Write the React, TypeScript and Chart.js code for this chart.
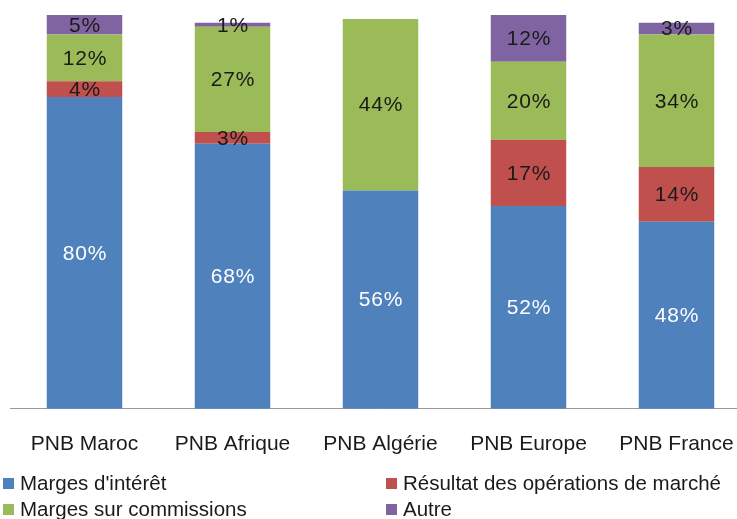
import React, { useEffect, useRef } from "react";
import { Chart, registerables } from "chart.js";

Chart.register(...registerables);

const categories = ["PNB Maroc", "PNB Afrique", "PNB Algérie", "PNB Europe", "PNB France"];
const seriesNames = [
  "Marges d'intérêt",
  "Résultat des opérations de marché",
  "Marges sur commissions",
  "Autre",
];
const margesInteret = [80, 68, 56, 52, 48];
const resultatMarche = [4, 3, 0, 17, 14];
const margesCommissions = [12, 27, 44, 20, 34];
const autre = [5, 1, 0, 12, 3];
const seriesColors = ["#4F81BD", "#C0504D", "#9BBB59", "#8064A2"];
const labelColors = ["#ffffff", "#1a1a1a", "#1a1a1a", "#1a1a1a"];

const FONT = "'Liberation Sans', Arial, sans-serif";

// Percent labels centred in each stacked segment
const segmentLabels = {
  id: "segmentLabels",
  afterDatasetsDraw(chart: any) {
    const { ctx } = chart;
    ctx.save();
    ctx.font = `21px ${FONT}`;
    ctx.textAlign = "center";
    ctx.textBaseline = "middle";
    (ctx as any).letterSpacing = "0.8px";
    chart.data.datasets.forEach((ds: any, di: number) => {
      const meta = chart.getDatasetMeta(di);
      meta.data.forEach((bar: any, i: number) => {
        const v = ds.data[i];
        if (!v) return;
        const { x, y, base } = bar.getProps(["x", "y", "base"], true);
        ctx.fillStyle = labelColors[di];
        ctx.fillText(`${v}%`, x + 0.5, (y + base) / 2 + 1);
      });
    });
    ctx.restore();
  },
};

// Two-column legend along the bottom edge
const bottomLegend = {
  id: "bottomLegend",
  afterDraw(chart: any) {
    const { ctx } = chart;
    const h = chart.height;
    const cols = [3, 386];
    const rows = [h - 36, h - 10];
    ctx.save();
    ctx.font = `20.5px ${FONT}`;
    ctx.textAlign = "left";
    ctx.textBaseline = "middle";
    chart.data.datasets.forEach((ds: any, i: number) => {
      const x = cols[i % 2];
      const y = rows[Math.floor(i / 2)];
      ctx.fillStyle = ds.backgroundColor;
      ctx.fillRect(x, y - 5, 11, 11);
      ctx.fillStyle = "#1a1a1a";
      ctx.fillText(ds.label, x + 17, y + 1);
    });
    ctx.restore();
  },
};

export default function App() {
  const ref = useRef<HTMLCanvasElement | null>(null);

  useEffect(() => {
    if (!ref.current) return;
    const values = [margesInteret, resultatMarche, margesCommissions, autre];
    const chart = new Chart(ref.current, {
      type: "bar",
      data: {
        labels: categories,
        datasets: values.map((d, i) => ({
          label: seriesNames[i],
          data: d,
          backgroundColor: seriesColors[i],
          borderWidth: 0,
          barPercentage: 0.51,
          categoryPercentage: 1,
        })),
      },
      options: {
        animation: false,
        responsive: false,
        maintainAspectRatio: false,
        layout: { padding: { left: 10.5, right: 9.5, top: 15, bottom: 39 } },
        plugins: {
          legend: { display: false },
          tooltip: { enabled: false },
        },
        scales: {
          x: {
            stacked: true,
            grid: { display: false, drawTicks: false },
            border: { display: true, color: "#9a9a9a", width: 1 },
            ticks: {
              color: "#1a1a1a",
              font: { family: FONT, size: 21 },
              padding: 23,
              maxRotation: 0,
              autoSkip: false,
            },
          },
          y: {
            stacked: true,
            display: false,
            min: 0,
            max: 101,
          },
        },
      },
      plugins: [segmentLabels, bottomLegend],
    });
    return () => chart.destroy();
  }, []);

  return (
    <div
      style={{
        position: "fixed",
        left: 0,
        top: 0,
        width: 737,
        height: 519,
        overflow: "hidden",
        background: "#fff",
      }}
    >
      <canvas ref={ref} width={760} height={519} style={{ width: 760, height: 519, display: "block" }} />
    </div>
  );
}
